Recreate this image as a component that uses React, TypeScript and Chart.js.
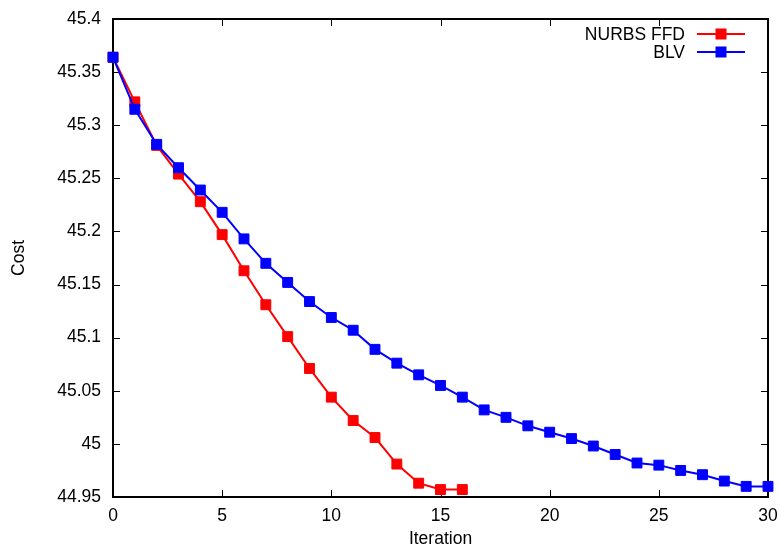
import React, { useEffect, useRef } from 'react';
import { Chart, registerables } from 'chart.js';
Chart.register(...registerables);

const FONT = '"Liberation Sans", Arial, Helvetica, sans-serif';
const FS = 17.5;

const nurbsIter = [0, 1, 2, 3, 4, 5, 6, 7, 8, 9, 10, 11, 12, 13, 14, 15, 16];
const nurbsCost = [45.364, 45.322, 45.281, 45.254, 45.228, 45.197, 45.163, 45.131, 45.101, 45.071, 45.044, 45.022, 45.006, 44.981, 44.963, 44.957, 44.957];

const blvIter = [0, 1, 2, 3, 4, 5, 6, 7, 8, 9, 10, 11, 12, 13, 14, 15, 16, 17, 18, 19, 20, 21, 22, 23, 24, 25, 26, 27, 28, 29, 30];
const blvCost = [45.364, 45.315, 45.282, 45.260, 45.239, 45.218, 45.193, 45.170, 45.152, 45.134, 45.119, 45.107, 45.089, 45.076, 45.065, 45.055, 45.044, 45.032, 45.025, 45.017, 45.011, 45.005, 44.998, 44.990, 44.982, 44.980, 44.975, 44.971, 44.965, 44.960, 44.960];

const xTicks = [0, 5, 10, 15, 20, 25, 30];
const yTicks = [44.95, 45, 45.05, 45.1, 45.15, 45.2, 45.25, 45.3, 45.35, 45.4];

const seriesNames = ['NURBS FFD', 'BLV'];
const seriesColors = ['#ff0000', '#0000ff'];

const framePlugin = {
  id: 'gnuframe',
  beforeDatasetsDraw(chart: any) {
    const { ctx, chartArea: a, scales } = chart;
    ctx.save();
    ctx.strokeStyle = '#000';
    ctx.lineWidth = 1;
    const tl = 7;
    ctx.beginPath();
    for (const v of xTicks) {
      const px = Math.round(scales.x.getPixelForValue(v)) + 0.5;
      ctx.moveTo(px, a.bottom);
      ctx.lineTo(px, a.bottom - tl);
      ctx.moveTo(px, a.top);
      ctx.lineTo(px, a.top + tl);
    }
    for (const v of yTicks) {
      const py = Math.round(scales.y.getPixelForValue(v)) + 0.5;
      ctx.moveTo(a.left, py);
      ctx.lineTo(a.left + tl, py);
      ctx.moveTo(a.right, py);
      ctx.lineTo(a.right - tl, py);
    }
    ctx.stroke();
    ctx.lineWidth = 2;
    ctx.strokeRect(a.left, a.top, a.right - a.left, a.bottom - a.top);
    ctx.restore();
  },
  afterDraw(chart: any) {
    const { ctx } = chart;
    ctx.save();
    ctx.font = `${FS}px ${FONT}`;
    ctx.textAlign = 'right';
    ctx.textBaseline = 'middle';
    const ys = [34, 52];
    seriesNames.forEach((name, i) => {
      const y = ys[i];
      ctx.fillStyle = '#000';
      ctx.fillText(name, 685, y + 1);
      ctx.strokeStyle = seriesColors[i];
      ctx.lineWidth = 2;
      ctx.beginPath();
      ctx.moveTo(697, y);
      ctx.lineTo(745, y);
      ctx.stroke();
      ctx.fillStyle = seriesColors[i];
      ctx.fillRect(721 - 5.5, y - 5.5, 11, 11);
    });
    ctx.restore();
  },
};

export default function App() {
  const ref = useRef<HTMLCanvasElement>(null);
  useEffect(() => {
    document.body.style.margin = '0';
    const chart = new Chart(ref.current as HTMLCanvasElement, {
      type: 'line',
      data: {
        datasets: [
          {
            label: seriesNames[0],
            data: nurbsIter.map((x, i) => ({ x, y: nurbsCost[i] })),
            borderColor: seriesColors[0],
            backgroundColor: seriesColors[0],
            borderWidth: 2,
            pointStyle: 'rect',
            pointRadius: 7,
            pointBorderWidth: 1,
            order: 1,
            clip: false as any,
          },
          {
            label: seriesNames[1],
            data: blvIter.map((x, i) => ({ x, y: blvCost[i] })),
            borderColor: seriesColors[1],
            backgroundColor: seriesColors[1],
            borderWidth: 2,
            pointStyle: 'rect',
            pointRadius: 7,
            pointBorderWidth: 1,
            order: 0,
            clip: false as any,
          },
        ],
      },
      options: {
        responsive: false,
        animation: false,
        layout: { padding: { top: 19, right: 11, left: 0, bottom: 0 } },
        plugins: { legend: { display: false }, tooltip: { enabled: false } },
        scales: {
          x: {
            type: 'linear',
            min: 0,
            max: 30,
            grid: { display: false, drawTicks: false },
            border: { display: false },
            afterBuildTicks: (s: any) => { s.ticks = xTicks.map((v) => ({ value: v })); },
            afterFit: (s: any) => { s.height = 51; s.paddingLeft = 0; s.paddingRight = 0; },
            ticks: { color: '#000', padding: 9, maxRotation: 0, font: { family: FONT, size: FS }, callback: (v: any) => String(v) },
            title: { display: true, text: 'Iteration', color: '#000', font: { family: FONT, size: FS, lineHeight: 1 }, padding: { top: 0, bottom: 0 } },
          },
          y: {
            type: 'linear',
            min: 44.95,
            max: 45.4,
            grid: { display: false, drawTicks: false },
            border: { display: false },
            afterBuildTicks: (s: any) => { s.ticks = yTicks.map((v) => ({ value: v })); },
            afterFit: (s: any) => { s.width = 113; s.paddingTop = 0; s.paddingBottom = 0; },
            ticks: { color: '#000', padding: 12, font: { family: FONT, size: FS }, callback: (v: any) => String(Number(Number(v).toFixed(2))) },
            title: { display: true, text: 'Cost', color: '#000', font: { family: FONT, size: FS, lineHeight: 1 }, padding: { top: 10, bottom: 0 } },
          },
        },
      },
      plugins: [framePlugin],
    });
    return () => chart.destroy();
  }, []);
  return (
    <div style={{ position: 'absolute', left: 0, top: 0, width: 779, height: 548 }}>
      <canvas ref={ref} width={779} height={548} style={{ display: 'block' }} />
    </div>
  );
}
